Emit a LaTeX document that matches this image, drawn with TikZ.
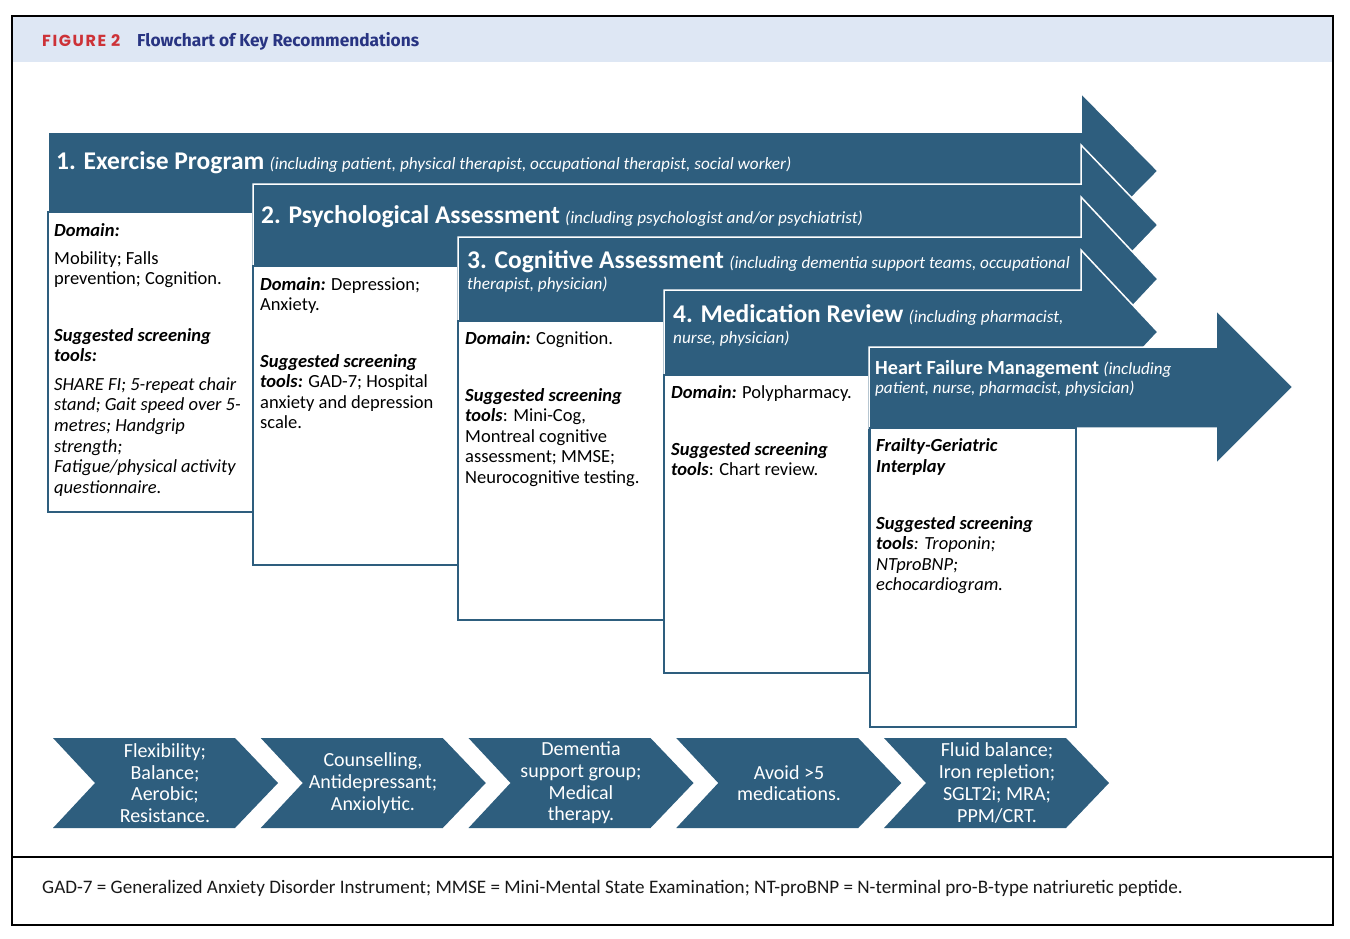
\documentclass[tikz,border=0pt]{standalone}
\usepackage{fontspec}
\setmainfont{Carlito}
\newfontfamily\headfont[LetterSpace=10]{Poppins}
\newfontfamily\titlefont{Fira Sans}
\definecolor{arrowblue}{RGB}{46,94,126}
\definecolor{hdrband}{RGB}{222,231,244}
\definecolor{figred}{RGB}{205,50,55}
\definecolor{navy}{RGB}{40,52,130}
\newcommand{\bi}[1]{{\bfseries\itshape #1}}
\newcommand{\bigb}{\fontsize{25.5}{28}\selectfont\bfseries}
\newcommand{\smi}{\fontsize{17.2}{20}\selectfont\itshape}
\tikzset{
  arr/.style={fill=arrowblue, draw=white, line width=1.5pt, line join=miter},
  bx/.style={fill=white, draw=arrowblue, line width=2.2pt},
  chev/.style={fill=arrowblue},
  btxt/.style={anchor=base west, inner sep=0pt, font=\fontsize{18.5}{20}\selectfont, text=black},
  ttl/.style={anchor=base west, inner sep=0pt, text=white},
  ctxt/.style={align=center, inner sep=0pt, text=white, font=\fontsize{20}{21.7}\selectfont},
}
\begin{document}
\begin{tikzpicture}[x=1pt,y=-1pt]
\useasboundingbox (0,0) rectangle (1350,938);
\fill[white] (0,0) rectangle (1350,938);
% header band and frame
\fill[hdrband] (12,16) rectangle (1333,62);
\draw[black, line width=1.2pt] (12,16) rectangle (1333,925);
\draw[black, line width=1.5pt] (12,857) -- (1333,857);
\node[anchor=base west, inner sep=0pt, text=figred, font=\headfont\fontsize{16}{18}\selectfont\bfseries] (fig) at (42,46) {FIGURE 2};
\node[anchor=base west, inner sep=0pt, text=navy, font=\titlefont\fontsize{17.3}{19}\selectfont\bfseries] (figtitle) at (137,46) {Flowchart of Key Recommendations};

% arrow 1
\path[arr] (48,132) -- (1081,132) -- (1081,93) -- (1158,171) -- (1081,249) -- (1081,212) -- (48,212) -- cycle;
\path[bx] (48,212) rectangle (253,512);
% arrow 2
\path[arr] (253,184) -- (1081,184) -- (1081,145) -- (1158,225) -- (1081,305) -- (1081,266) -- (253,266) -- cycle;
\path[bx] (253,266) rectangle (458,565);
% arrow 3
\path[arr] (458,237) -- (1081,237) -- (1081,197) -- (1158,279) -- (1081,361) -- (1081,321) -- (458,321) -- cycle;
\path[bx] (458,321) rectangle (664,620);
% arrow 4
\path[arr] (664,290) -- (1081,290) -- (1081,250) -- (1158,332) -- (1081,414) -- (1081,375) -- (664,375) -- cycle;
\path[bx] (664,375) rectangle (869,673);
% arrow 5
\path[arr] (869,347) -- (1216,347) -- (1216,310) -- (1293,387) -- (1216,464) -- (1216,428) -- (869,428) -- cycle;
\path[bx] (870,428) rectangle (1076,727);

% arrow titles
\node[ttl] (t1) at (56,169) {{\bigb 1. Exercise Program}\hspace{3pt} {\smi (including patient, physical therapist, occupational therapist, social worker)}};
\node[ttl] (t2) at (261,223) {{\bigb 2. Psychological Assessment}\hspace{3pt} {\smi (including psychologist and/or psychiatrist)}};
\node[ttl] (t3) at (467,268) {{\bigb 3. Cognitive Assessment}\hspace{3pt} {\smi (including dementia support teams, occupational}};
\node[ttl, font=\smi] (t3b) at (467,289) {therapist, physician)};
\node[ttl] (t4) at (673,322) {{\bigb 4. Medication Review}\hspace{3pt} {\smi (including pharmacist,}};
\node[ttl, font=\smi] (t4b) at (673,343) {nurse, physician)};
\node[ttl] (t5) at (875,374) {{\fontsize{20.1}{22}\selectfont\bfseries Heart Failure Management}\hspace{2pt} {\fontsize{17.1}{20}\selectfont\itshape (including}};
\node[ttl, font=\fontsize{17.1}{20}\selectfont\itshape] (t5b) at (875,393) {patient, nurse, pharmacist, physician)};

% box texts
\foreach \y/\t [count=\i] in {236/{\bi{Domain:}}, 264/{Mobility; Falls}, 284/{prevention; Cognition.}, 341/{\bi{Suggested screening}}, 361/{\bi{tools:}}, 390/{\itshape SHARE FI; 5-repeat chair}, 410/{\itshape stand; Gait speed over 5-}, 431/{\itshape metres; Handgrip}, 452/{\itshape strength;}, 472/{\itshape Fatigue/physical activity}, 493/{\itshape questionnaire.}}
  \node[btxt] (ba\i) at (54,\y) {\t};
\foreach \y/\t [count=\i] in {290/{\bi{Domain:} Depression;}, 310/{Anxiety.}, 367/{\bi{Suggested screening}}, 387/{\bi{tools:} GAD-7; Hospital}, 408/{anxiety and depression}, 428/{scale.}}
  \node[btxt] (bb\i) at (260,\y) {\t};
\foreach \y/\t [count=\i] in {344/{\bi{Domain:} Cognition.}, 401/{\bi{Suggested screening}}, 421/{\bi{tools}: Mini-Cog,}, 442/{Montreal cognitive}, 462/{assessment; MMSE;}, 483/{Neurocognitive testing.}}
  \node[btxt] (bc\i) at (465,\y) {\t};
\foreach \y/\t [count=\i] in {398/{\bi{Domain:} Polypharmacy.}, 455/{\bi{Suggested screening}}, 475/{\bi{tools}: Chart review.}}
  \node[btxt] (bd\i) at (671,\y) {\t};
\foreach \y/\t [count=\i] in {451/{\bi{Frailty-Geriatric}}, 472/{\bi{Interplay}}, 529/{\bi{Suggested screening}}, 549/{\bi{tools}\textit{: Troponin;}}, 570/{\itshape NTproBNP;}, 590/{\itshape echocardiogram.}}
  \node[btxt] (be\i) at (876,\y) {\t};

% bottom chevrons
\foreach \xo [count=\i] in {53,260.75,468.5,676.25,884} {
  \path[chev] (\xo,738) -- ({\xo+182},738) -- ({\xo+225},783) -- ({\xo+182},828) -- (\xo,828) -- ({\xo+42},783) -- cycle;
}
\node[ctxt] (c1) at (165,783) {Flexibility;\\Balance;\\Aerobic;\\Resistance.};
\node[ctxt] (c2) at (373,783) {Counselling,\\Antidepressant;\\Anxiolytic.};
\node[ctxt] (c3) at (581,783) {Dementia\\support group;\\Medical\\therapy.};
\node[ctxt] (c4) at (789,783) {Avoid >5\\medications.};
\node[ctxt] (c5) at (997,783) {Fluid balance;\\Iron repletion;\\SGLT2i; MRA;\\PPM/CRT.};

% footer
\node[anchor=base west, inner sep=0pt, font=\fontsize{19.1}{20}\selectfont, text=black!90] (foot) at (42,893) {GAD-7 = Generalized Anxiety Disorder Instrument; MMSE = Mini-Mental State Examination; NT-proBNP = N-terminal pro-B-type natriuretic peptide.};
\end{tikzpicture}
\end{document}
